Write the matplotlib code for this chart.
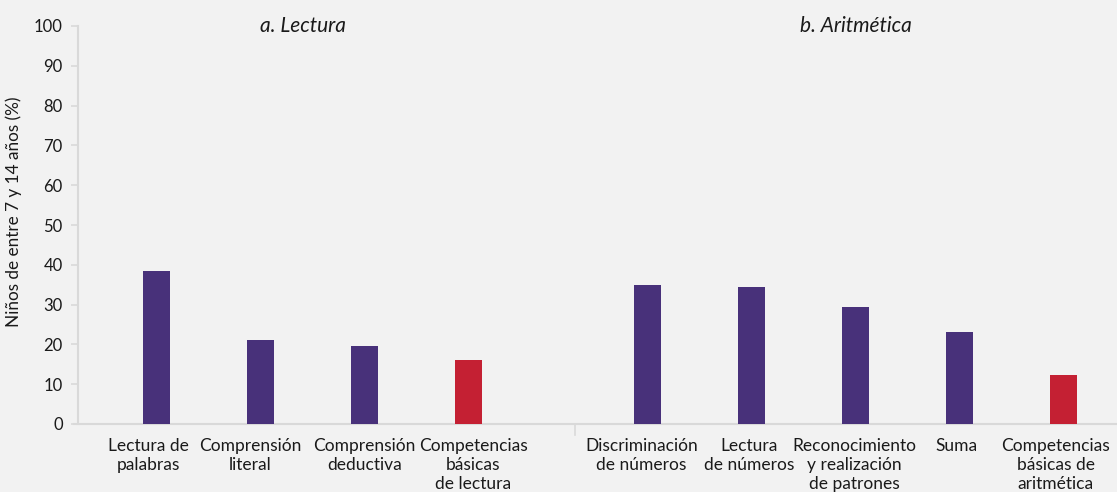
import matplotlib
matplotlib.use("Agg")
import matplotlib.pyplot as plt

categories_lectura = ["Lectura de\npalabras", "Comprensión\nliteral", "Comprensión\ndeductiva",
                      "Competencias\nbásicas\nde lectura"]
values_lectura = [38.4, 21.1, 19.6, 16.1]
categories_aritmetica = ["Discriminación\nde números", "Lectura\nde números", "Reconocimiento\ny realización\nde patrones",
                         "Suma", "Competencias\nbásicas de\naritmética"]
values_aritmetica = [34.9, 34.4, 29.4, 23.1, 12.3]
colors_lectura = ["#48317A", "#48317A", "#48317A", "#C42033"]
colors_aritmetica = ["#48317A", "#48317A", "#48317A", "#48317A", "#C42033"]
panel_titles = ["a. Lectura", "b. Aritmética"]
yticks = [0, 10, 20, 30, 40, 50, 60, 70, 80, 90, 100]

FONT = ["Lato", "DejaVu Sans"]
plt.rcParams["font.family"] = FONT
bg = "#F2F2F2"
axcol = "#D9D9D9"

fig = plt.figure(figsize=(11.17, 4.92), dpi=100, facecolor=bg)
ax = fig.add_axes([78/1117, 68/492, 1 - 78/1117, (424-26)/492], facecolor=bg)

gap = 1.73
pos_l = [i for i in range(len(values_lectura))]
pos_a = [len(values_lectura) - 1 + gap + i for i in range(len(values_aritmetica))]
width = 0.26
ax.bar(pos_l, values_lectura, width=width, color=colors_lectura, zorder=3)
ax.bar(pos_a, values_aritmetica, width=width, color=colors_aritmetica, zorder=3)

ax.set_xlim(-0.76, pos_a[-1] + 0.52)
ax.set_ylim(0, 100)
ax.set_yticks(yticks)
ax.set_yticklabels([str(v) for v in yticks], fontsize=12, color="#1a1a1a")
ax.tick_params(axis="y", length=5, color=axcol, width=1.2, pad=6)
ax.set_xticks([])
for s in ["top", "right"]:
    ax.spines[s].set_visible(False)
ax.spines["left"].set_color(axcol)
ax.spines["left"].set_linewidth(1.5)
ax.spines["bottom"].set_color(axcol)
ax.spines["bottom"].set_linewidth(1.5)
ax.spines["bottom"].set_bounds(-0.8, pos_a[-1] + 0.52)
ax.spines["bottom"].set_clip_on(False)

# category labels (small horizontal nudges, in bar-spacing units, as in the source layout)
label_nudge = [-0.08, -0.10, 0.0, 0.05, -0.06, -0.02, -0.01, -0.03, -0.07]
trans = ax.get_xaxis_transform()
pairs = list(zip(pos_l, categories_lectura)) + list(zip(pos_a, categories_aritmetica))
for (p, lab), dx in zip(pairs, label_nudge):
    ax.text(p + dx, -0.035, lab, transform=trans, ha="center", va="top", fontsize=12.5,
            color="#1a1a1a", linespacing=1.22, multialignment="center")

# separator tick
sep = pos_l[-1] + 1.03
ax.plot([sep, sep], [0, -0.028], transform=trans, color=axcol, lw=1.2, clip_on=False)

# panel titles
ax.text(1.41, 1.0, panel_titles[0], transform=trans, ha="center",
        va="center", fontsize=15, style="italic", color="#1a1a1a")
ax.text(pos_a[2], 1.0, panel_titles[1], transform=trans, ha="center",
        va="center", fontsize=15, style="italic", color="#1a1a1a")

ax.set_ylabel("Niños de entre 7 y 14 años (%)", fontsize=12.3, color="#1a1a1a")
ax.yaxis.set_label_coords((22 - 78) / 1039, (424 - 212) / 398)

fig.savefig("out.png", dpi=100, facecolor=bg)
